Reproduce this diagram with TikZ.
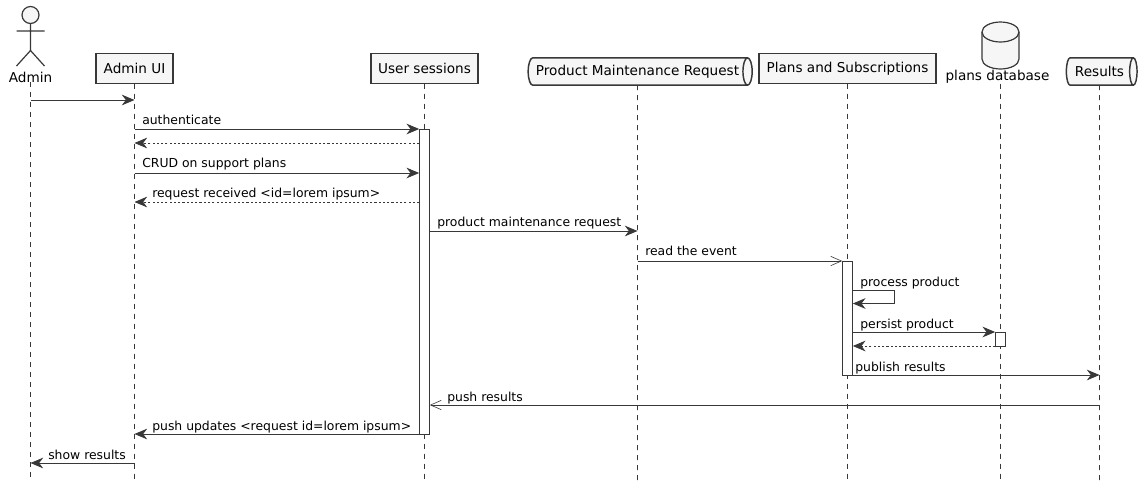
\documentclass[tikz,border=0pt]{standalone}
\usepackage{fontspec}
\setmainfont{DejaVu Sans}
\usetikzlibrary{arrows.meta,shapes.geometric}
\definecolor{SeqLine}{HTML}{383838}
\definecolor{SeqFill}{HTML}{F6F6F6}
\tikzset{
  box/.style={draw=SeqLine,line width=1.1pt,fill=SeqFill,inner sep=0pt,outer sep=0pt,minimum height=22.5pt,font=\fontsize{10.2}{12}\selectfont},
  queue/.style={cylinder,draw=SeqLine,line width=1.1pt,fill=SeqFill,inner sep=0pt,outer sep=0pt,shape aspect=0.7,minimum width=20.5pt,font=\fontsize{10.2}{12}\selectfont},
  caption/.style={inner sep=0pt,outer sep=0pt,font=\fontsize{10.2}{12}\selectfont},
  label/.style={anchor=base west,inner sep=0pt,font=\fontsize{9.3}{11}\selectfont},
  lifeline/.style={draw=SeqLine,line width=0.5pt,dash pattern=on 3.75pt off 3.75pt},
  bar/.style={draw=SeqLine,line width=0.7pt,fill=white,inner sep=0pt,outer sep=0pt,minimum width=8pt},
  msg/.style={draw=SeqLine,line width=0.7pt,-{Stealth[length=9.5pt,width=8pt,inset=3pt]}},
  reply/.style={msg,line width=0.6pt,dash pattern=on 1.6pt off 1.6pt},
  async/.style={draw=SeqLine,line width=0.7pt,-{Straight Barb[length=8pt,width=7pt,line width=0.45pt]}}
}
\begin{document}
\begin{tikzpicture}[x=0.75pt,y=-0.75pt]
    \useasboundingbox (0,0) rectangle (1140,487);

    % participants
    \node[caption] (admin) at (30.5,77) {Admin};
    \node[box,minimum width=58pt] (ui) at (134.5,68.5) {Admin UI};
    \node[box,minimum width=80.5pt] (sessions) at (424.5,68.5) {User sessions};
    \node[queue,minimum height=168pt] (request) at (637.5,71.5) {Product Maintenance Request\hspace{12pt}};
    \node[box,minimum width=133pt] (plans) at (847.5,68.5) {Plans and Subscriptions};
    \node[caption] (database) at (997.5,77) {plans database};
    \node[queue,minimum height=53pt] (results) at (1099.5,71.5) {Results\hspace{12pt}};
    \coordinate (drum) at (1000.5,45);

    \foreach \n in {admin,ui,sessions,request,plans,results}
      \draw[lifeline] (\n.south) -- (\n |- 0,481);
    \draw[lifeline] (drum |- database.south) -- (drum |- 0,481);

    % actor and drum
    \draw[draw=SeqLine,line width=0.9pt,fill=SeqFill] (30.5,15) circle[radius=8.5];
    \draw[draw=SeqLine,line width=0.9pt] (30.5,23.5) -- (30.5,50.5) (16.5,31) -- (44.5,31)
      (16.5,66) -- (30.5,50.5) -- (44.5,66);
    \draw[draw=SeqLine,line width=0.9pt,fill=SeqFill] (982,32)
      arc[start angle=180,end angle=360,x radius=18.5,y radius=10] -- (1019,59)
      arc[start angle=0,end angle=180,x radius=18.5,y radius=10] -- cycle;
    \draw[draw=SeqLine,line width=0.9pt] (982,32) arc[start angle=180,end angle=0,x radius=18.5,y radius=10];

    % activations
    \node[bar,minimum height=228.75pt] (sessionsbar) at (424.5,281.5) {};
    \node[bar,minimum height=85.5pt] (plansbar) at (847.5,318) {};
    \node[bar,minimum height=10.5pt] (databasebar) at (1000.5,339) {};

    % messages
    \draw[msg] (admin |- 0,100) -- (ui |- 0,100);

    \node[label] (m1) at (142,124) {authenticate};
    \draw[msg] (ui |- 0,129) -- (sessionsbar.west |- 0,129);
    \draw[reply] (sessionsbar.west |- 0,143) -- (ui |- 0,143);

    \node[label] (m2) at (142,167) {CRUD on support plans};
    \draw[msg] (ui |- 0,173) -- (sessionsbar.west |- 0,173);

    \node[label] (m3) at (152,197) {request received <id=lorem ipsum>};
    \draw[reply] (sessionsbar.west |- 0,202) -- (ui |- 0,202);

    \node[label] (m4) at (437,226) {product maintenance request};
    \draw[msg] (sessionsbar.east |- 0,231) -- (request |- 0,231);

    \node[label] (m5) at (645,255) {read the event};
    \draw[async] (request |- 0,261) -- (plansbar.north west);

    \node[label] (m6) at (860,286) {process product};
    \draw[msg] (plansbar.east |- 0,290.5) -- (894.5,290.5) -- (894.5,303.5) -- (plansbar.east |- 0,303.5);

    \node[label] (m7) at (860,328) {persist product};
    \draw[msg] (plansbar.east |- 0,332) -- (databasebar.north west);
    \draw[reply] (databasebar.south west) -- (plansbar.east |- 0,346);

    \node[label] (m8) at (855,371) {publish results};
    \draw[msg] (plansbar.south east) -- (results |- 0,375);

    \node[label] (m9) at (447,401) {push results};
    \draw[async] (results |- 0,405) -- (sessionsbar.east |- 0,405);

    \node[label] (m10) at (152,430) {push updates <request id=lorem ipsum>};
    \draw[msg] (sessionsbar.south west) -- (ui |- 0,434);

    \node[label] (m11) at (48,459) {show results};
    \draw[msg] (ui |- 0,463) -- (admin |- 0,463);
  \end{tikzpicture}
\end{document}
